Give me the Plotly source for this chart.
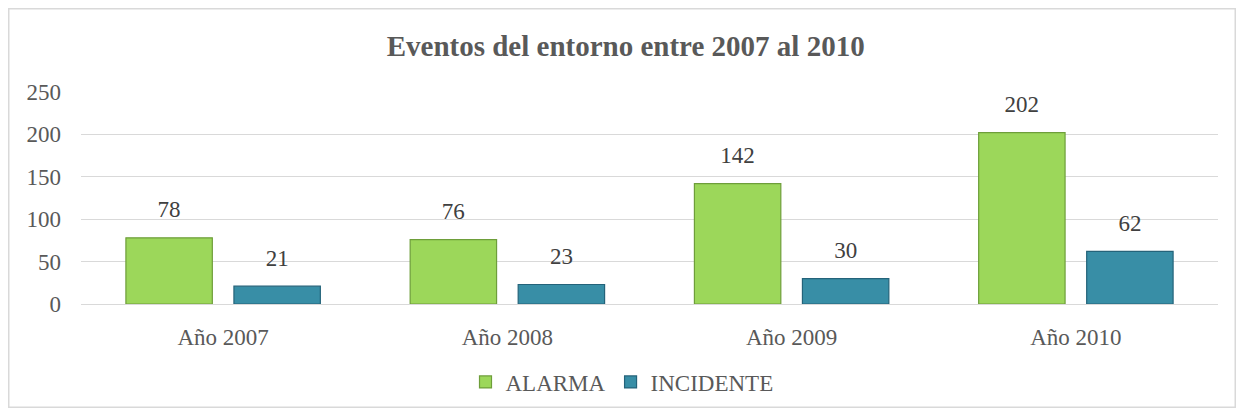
import plotly.graph_objects as go

categories = ["Año 2007", "Año 2008", "Año 2009", "Año 2010"]
alarma = [78, 76, 142, 202]
incidente = [21, 23, 30, 62]
y_ticks = [0, 50, 100, 150, 200, 250]

font_family = "Liberation Serif, Times New Roman, serif"
txt = "#595959"
lbl = "#404040"

W, H = 1228, 400
L, R, T, B = 73, 18, 84, 104
pw, ph = W - L - R, H - T - B

fig = go.Figure()
series = [
    ("ALARMA", alarma, "#9CD75A", "#6E9E3A", "a"),
    ("INCIDENTE", incidente, "#388EA6", "#24637A", "i"),
]
for name, vals, col, edge, grp in series:
    fig.add_trace(go.Bar(
        x=categories, y=vals, name=name, offsetgroup=grp,
        marker=dict(color=col, line=dict(color=edge, width=1.2)),
    ))
for name, vals, col, edge, grp in series:
    fig.add_trace(go.Scatter(
        x=categories, y=vals, mode="markers+text", offsetgroup=grp,
        text=[str(v) for v in vals], textposition="top center",
        textfont=dict(family=font_family, size=23, color=lbl),
        marker=dict(size=22, color="rgba(0,0,0,0)"),
        showlegend=False, hoverinfo="skip", cliponaxis=False,
    ))

fig.update_layout(
    width=W, height=H,
    margin=dict(l=L, r=R, t=T, b=B, autoexpand=False),
    paper_bgcolor="white", plot_bgcolor="white",
    barmode="group", bargap=0.24, bargroupgap=0.2,
    scattermode="group", scattergap=0.24,
    title=dict(text="<b>Eventos del entorno entre 2007 al 2010</b>",
               x=0.503, xanchor="center", y=0.905, yanchor="middle",
               font=dict(family=font_family, size=29, color=txt)),
    font=dict(family=font_family, size=23, color=txt),
    legend=dict(orientation="h", xref="container", yref="container",
                x=0.5, xanchor="center", y=0.065, yanchor="middle",
                font=dict(family=font_family, size=23, color=txt),
                itemwidth=30, traceorder="normal"),
    xaxis=dict(showgrid=False, showline=True, linecolor="#D9D9D9", linewidth=1,
               ticks="", ticklabelstandoff=12, automargin=False,
               tickfont=dict(family=font_family, size=23, color=txt)),
    yaxis=dict(range=[0, 250], tickvals=y_ticks, showgrid=True, gridcolor="#D9D9D9",
               gridwidth=1, zeroline=False, ticks="", ticklabelstandoff=19, automargin=False,
               tickfont=dict(family=font_family, size=23, color=txt)),
    shapes=[dict(type="rect", xref="paper", yref="paper",
                 x0=(0.75 - L) / pw, x1=(W - 0.75 - L) / pw,
                 y0=-(B - 0.75) / ph, y1=(T + ph - 0.75) / ph,
                 line=dict(color="#D9D9D9", width=1.5), fillcolor="rgba(0,0,0,0)", layer="below")],
)

fig.write_html("out.html")
